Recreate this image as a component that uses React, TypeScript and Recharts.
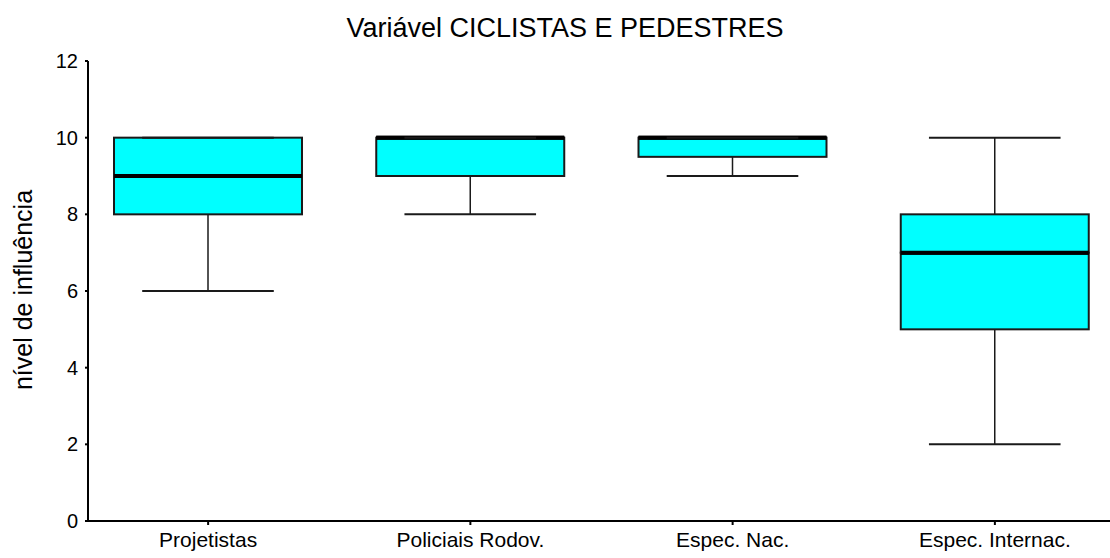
import { BarChart, Bar, XAxis, YAxis } from "recharts";

const categories = ["Projetistas", "Policiais Rodov.", "Espec. Nac.", "Espec. Internac."];
const mins = [6, 8, 9, 2];
const q1s = [8, 9, 9.5, 5];
const medians = [9, 10, 10, 7];
const q3s = [10, 10, 10, 8];
const maxs = [10, 10, 10, 10];
const yTicks = [0, 2, 4, 6, 8, 10, 12];

const data = categories.map((name, i) => ({
  name,
  base: mins[i],
  lowWhisker: q1s[i] - mins[i],
  lowBox: medians[i] - q1s[i],
  highBox: q3s[i] - medians[i],
  highWhisker: maxs[i] - q3s[i],
}));

const font = "'Liberation Sans', Arial, sans-serif";
const edge = "#1a1a1a";

function LowWhisker(p: any) {
  const cx = p.x + p.width / 2;
  const half = p.width * 0.35;
  const bottom = p.y + p.height;
  return (
    <g>
      <line x1={cx} y1={p.y} x2={cx} y2={bottom} stroke={edge} strokeWidth={1.5} />
      <line x1={cx - half} y1={bottom} x2={cx + half} y2={bottom} stroke={edge} strokeWidth={2} />
    </g>
  );
}

function HighWhisker(p: any) {
  const cx = p.x + p.width / 2;
  const half = p.width * 0.35;
  return (
    <g>
      <line x1={cx} y1={p.y} x2={cx} y2={p.y + p.height} stroke={edge} strokeWidth={1.5} />
      <line x1={cx - half} y1={p.y} x2={cx + half} y2={p.y} stroke={edge} strokeWidth={2} />
    </g>
  );
}

function LowBox(p: any) {
  return (
    <g>
      <rect x={p.x} y={p.y} width={p.width} height={p.height} fill="#00FFFF" stroke={edge} strokeWidth={2} />
      <line x1={p.x} y1={p.y} x2={p.x + p.width} y2={p.y} stroke="#000" strokeWidth={4} />
    </g>
  );
}

function HighBox(p: any) {
  const bottom = p.y + p.height;
  return (
    <g>
      <rect x={p.x} y={p.y} width={p.width} height={p.height} fill="#00FFFF" stroke={edge} strokeWidth={2} />
      <line x1={p.x} y1={bottom} x2={p.x + p.width} y2={bottom} stroke="#000" strokeWidth={4} />
    </g>
  );
}

export default function App() {
  return (
    <div style={{ position: "absolute", left: 0, top: 0, width: 1110, height: 558, background: "#fff", fontFamily: font }}>
      <div style={{ position: "absolute", left: 0, width: 1130, top: 13, textAlign: "center", fontSize: 27, color: "#000", lineHeight: "30px" }}>
        Variável CICLISTAS E PEDESTRES
      </div>
      <div
        style={{
          position: "absolute",
          left: 23,
          top: 290,
          transform: "translate(-50%, -50%) rotate(-90deg)",
          whiteSpace: "nowrap",
          fontSize: 25,
          color: "#000",
        }}
      >
        nível de influência
      </div>
      <BarChart width={1110} height={558} data={data} margin={{ top: 61, right: 0, bottom: 0, left: 0 }} barSize={188}>
        <XAxis
          dataKey="name"
          height={37}
          interval={0}
          padding={{ left: -11, right: -16 }}
          axisLine={{ stroke: "#000", strokeWidth: 2 }}
          tickLine={{ stroke: "#000", strokeWidth: 2 }}
          tickSize={4}
          tickMargin={7}
          tick={{ fill: "#000", fontSize: 21, fontFamily: font }}
        />
        <YAxis
          type="number"
          width={88}
          domain={[0, 12]}
          ticks={yTicks}
          axisLine={{ stroke: "#000", strokeWidth: 2 }}
          tickLine={{ stroke: "#000", strokeWidth: 2 }}
          tickSize={3}
          tickMargin={7}
          tick={{ fill: "#000", fontSize: 20, fontFamily: font }}
        />
        <Bar dataKey="base" stackId="box" fill="transparent" shape={() => <g />} isAnimationActive={false} />
        <Bar dataKey="lowWhisker" stackId="box" shape={LowWhisker} isAnimationActive={false} />
        <Bar dataKey="lowBox" stackId="box" shape={LowBox} isAnimationActive={false} />
        <Bar dataKey="highBox" stackId="box" shape={HighBox} isAnimationActive={false} />
        <Bar dataKey="highWhisker" stackId="box" shape={HighWhisker} isAnimationActive={false} />
      </BarChart>
    </div>
  );
}
